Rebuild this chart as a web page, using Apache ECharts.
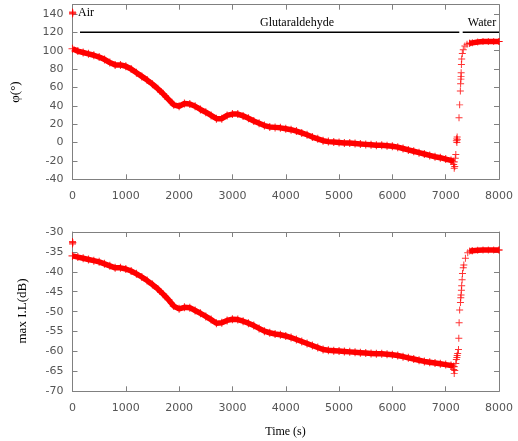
<!DOCTYPE html>
<html><head><meta charset="utf-8">
<script src="https://cdn.jsdelivr.net/npm/echarts@6/dist/echarts.min.js"></script>
<style>html,body{margin:0;padding:0;background:#fff}#c{width:518px;height:441px}</style>
</head><body><div id="c"></div>
<script>
// ---- data ----
const timeBand = [0,100,200,300,400,500,600,700,800,900,1000,1100,1200,1300,1400,1500,1600,1700,1800,1900,2000,2100,2200,2300,2400,2500,2600,2700,2800,2900,3000,3100,3200,3300,3400,3500,3600,3700,3800,3900,4000,4100,4200,4300,4400,4500,4600,4700,4800,4900,5000,5100,5200,5300,5400,5500,5600,5700,5800,5900,6000,6100,6200,6300,6400,6500,6600,6700,6800,6900,7000,7100,7150];
const phiBand = [102,99.5,98,96.5,95,93,90.5,87,84.5,84.5,83,80,76,72,68,63.5,58.5,53,47,41,39.5,42.5,42,39.5,36,33,29.5,26,26,29.5,31,31,29,26.5,23.5,21,18.5,17,16.5,16,15,14,12.5,10.5,8.5,6,4,2,1,0.5,0,-0.5,-0.5,-1,-1.5,-2,-2.5,-3,-3,-3.5,-4,-5,-6.5,-8,-9.5,-11,-12.5,-14,-15.5,-16.5,-18,-19.5,-21];
const lossBand = [-36,-36.3,-36.6,-36.9,-37.2,-37.5,-38,-38.5,-39,-39,-39.3,-39.8,-40.5,-41.3,-42.2,-43.2,-44.3,-45.6,-47,-48.6,-49.3,-48.9,-49,-49.7,-50.4,-51.2,-52,-52.9,-52.8,-52.2,-51.9,-52,-52.4,-52.9,-53.5,-54.2,-54.9,-55.3,-55.6,-55.8,-56.1,-56.5,-57,-57.5,-58,-58.5,-59,-59.5,-59.7,-59.8,-59.9,-60,-60.1,-60.2,-60.3,-60.4,-60.5,-60.6,-60.6,-60.7,-60.8,-61,-61.3,-61.6,-61.9,-62.2,-62.5,-62.7,-62.9,-63.1,-63.3,-63.5,-63.8];

const timePlateau = [7450,7500,7600,7700,7800,7900,8000];
const phiPlateau = [108,108.5,109.5,110,110,110,110];
const lossPlateau = [-34.8,-34.7,-34.6,-34.5,-34.5,-34.5,-34.5];

const timeJumpPhi = [7150,7160,7170,7180,7190,7200,7205,7210,7215,7220,7250,7262,7275,7280,7286,7288,7290,7295,7300,7312,7330,7360,7400,7450,8000];
const phiJump =     [-24,-28,-26,-17,-13,2,4,0,6,3,27,41,56,64,69,72,76,85,91,97,101,105,107,108,110];
const timeJumpLoss = [7150,7160,7170,7190,7200,7210,7215,7225,7240,7246,7252,7262,7277,7283,7288,7295,7300,7308,7315,7330,7340,7370,7414,7495,8000];
const lossJump =     [-64.5,-65.5,-64.8,-63,-62,-61.5,-61,-60.5,-59.5,-56.7,-52.8,-49.6,-47.7,-46.5,-45.8,-44.6,-43.5,-42,-40.4,-39,-38.3,-36.6,-35.2,-34.7,-34.5];

const timeStart = [0,0,0,8];
const phiStart = [140,141,142,141];
const lossStart = [-32.4,-32.7,-33,-32.7];

const glutSpan = [141, 7255];
const waterSpan = [7319, 8000];
const mediumLevel = 120;

const xTicks = {min:0, max:8000, interval:1000};
const phiAxis = {min:-40, max:150, interval:20};
const lossAxis = {min:-70, max:-30, interval:5};

// ---- build ----
const zip = (a,b) => a.map((v,i)=>[v,b[i]]);
const RED = '#ff0000';
const AX = '#808080';
const LAB = '#555555';
const plus = 'path://M0,4.3L10,4.3L10,5.7L0,5.7Z M4.3,0L5.7,0L5.7,10L4.3,10Z';

function xAx(grid, pos, labels){
  return {type:'value', gridIndex:grid, position:pos, min:xTicks.min, max:xTicks.max, interval:xTicks.interval,
    axisLine:{show:true,onZero:false,lineStyle:{color:AX,width:1}},
    axisTick:{show:true,inside:true,length:5,lineStyle:{color:AX}},
    splitLine:{show:false},
    axisLabel:{show:labels,color:LAB,fontFamily:'DejaVu Sans',fontSize:11,margin:11,formatter:v=>String(v)}};
}
function yAx(grid, pos, labels, r){
  return {type:'value', gridIndex:grid, position:pos, min:r.min, max:r.max, interval:r.interval,
    axisLine:{show:true,onZero:false,lineStyle:{color:AX,width:1}},
    axisTick:{show:true,inside:true,length:5,lineStyle:{color:AX}},
    splitLine:{show:false},
    axisLabel:{show:labels,color:LAB,fontFamily:'DejaVu Sans',fontSize:11,margin:9,showMaxLabel: r.max!==150,formatter:v=>String(v)}};
}
function band(data,xi,yi){
  return {type:'line',xAxisIndex:xi,yAxisIndex:yi,data:data,showSymbol:false,symbol:'none',
    lineStyle:{color:RED,width:5.5},silent:true,animation:false,z:2};
}
function pts(data,xi,yi,size){
  return {type:'scatter',xAxisIndex:xi,yAxisIndex:yi,data:data,symbol:plus,symbolSize:size||7,
    itemStyle:{color:RED},silent:true,animation:false,z:3};
}
function span(s,xi,yi){
  return {type:'line',xAxisIndex:xi,yAxisIndex:yi,data:[[s[0],mediumLevel],[s[1],mediumLevel]],
    symbol:'none',lineStyle:{color:'#000',width:1.5},silent:true,animation:false,z:4};
}

const option = {
  animation:false,
  backgroundColor:'#fff',
  grid:[
    {left:72.5,right:19,top:4.7,bottom:261.7},
    {left:72.5,right:19,top:232,bottom:49.7}
  ],
  xAxis:[xAx(0,'bottom',true),xAx(0,'top',false),xAx(1,'bottom',true),xAx(1,'top',false)],
  yAxis:[yAx(0,'left',true,phiAxis),yAx(0,'right',false,phiAxis),yAx(1,'left',true,lossAxis),yAx(1,'right',false,lossAxis)],
  series:[
    band(zip(timeBand,phiBand),0,0),
    pts(zip(timeBand,phiBand),0,0,8),
    band(zip(timePlateau,phiPlateau),0,0),
    pts(zip(timePlateau,phiPlateau),0,0,7),
    pts(zip(timeJumpPhi,phiJump),0,0),
    pts(zip(timeStart,phiStart),0,0,7),
    span(glutSpan,0,0),
    span(waterSpan,0,0),
    band(zip(timeBand,lossBand),2,2),
    pts(zip(timeBand,lossBand),2,2,8),
    band(zip(timePlateau,lossPlateau),2,2),
    pts(zip(timePlateau,lossPlateau),2,2,7),
    pts(zip(timeJumpLoss,lossJump),2,2),
    pts(zip(timeStart,lossStart),2,2,7)
  ],
  graphic:[
    {type:'text',left:78,top:7,style:{text:'Air',font:'12px "Liberation Serif"',fill:'#000'}},
    {type:'text',x:297,y:23,style:{text:'Glutaraldehyde',font:'12px "Liberation Serif"',fill:'#000',align:'center',verticalAlign:'middle'}},
    {type:'text',x:482,y:23,style:{text:'Water',font:'12px "Liberation Serif"',fill:'#000',align:'center',verticalAlign:'middle'}},
    {type:'text',x:16,y:92,rotation:Math.PI/2,style:{text:'φ(°)',font:'13px "Liberation Serif"',fill:'#000',align:'center',verticalAlign:'middle'}},
    {type:'text',x:23,y:311,rotation:Math.PI/2,style:{text:'max I.L(dB)',font:'13px "Liberation Serif"',fill:'#000',align:'center',verticalAlign:'middle'}},
    {type:'text',x:285.5,y:432,style:{text:'Time (s)',font:'12px "Liberation Serif"',fill:'#000',align:'center',verticalAlign:'middle'}}
  ]
};
const chart = echarts.init(document.getElementById('c'),null,{renderer:'canvas'});
chart.setOption(option);
</script></body></html>
